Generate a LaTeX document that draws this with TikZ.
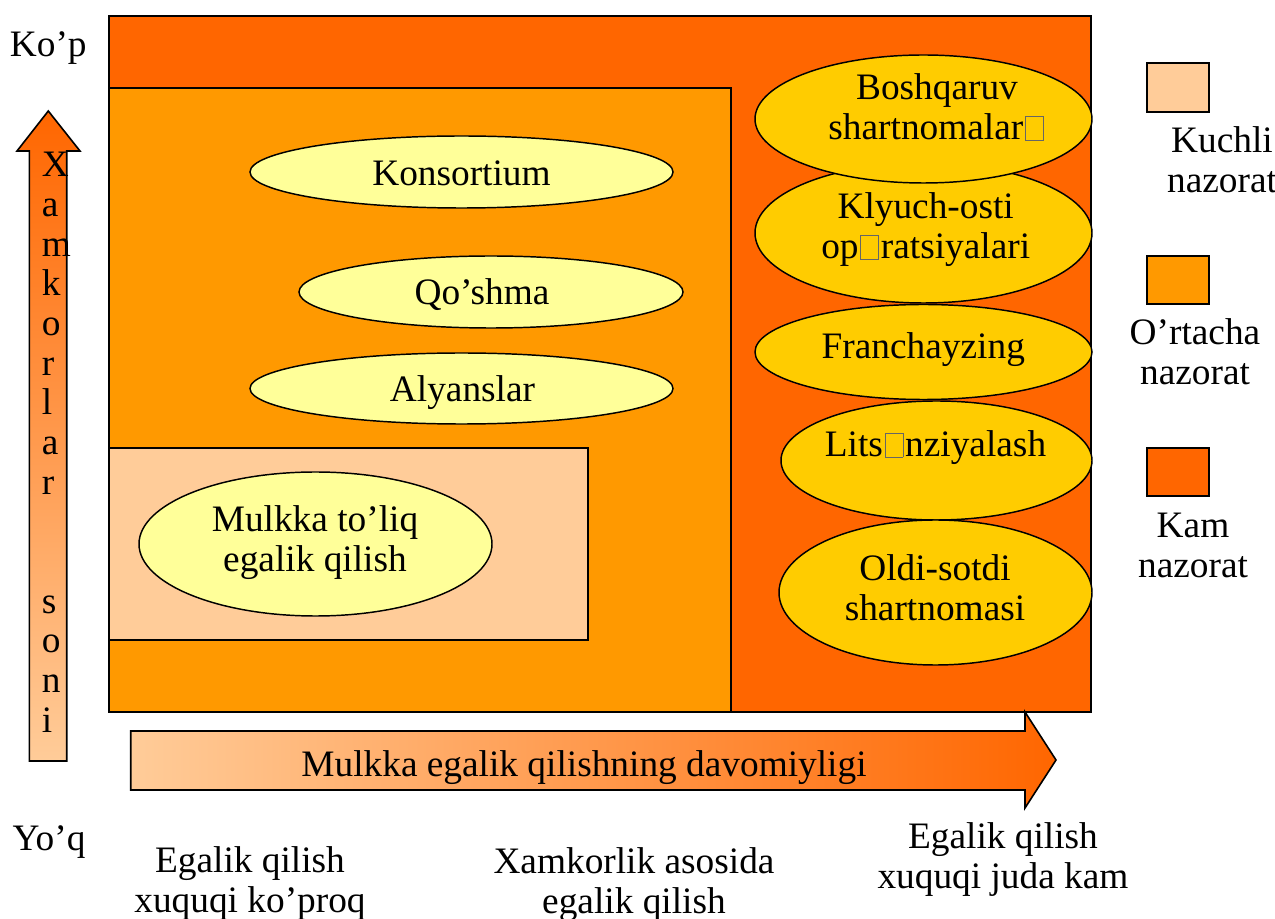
\documentclass[tikz,border=0pt]{standalone}
\usepackage{fontspec}
\setmainfont{Liberation Serif}
\usetikzlibrary{shapes.geometric}

\definecolor{lowctrl}{HTML}{FF6600}
\definecolor{midctrl}{HTML}{FF9900}
\definecolor{highctrl}{HTML}{FFCC99}
\definecolor{paleyellow}{HTML}{FFFF99}
\definecolor{goldfill}{HTML}{FFCC00}

% empty box standing in for a glyph the font does not have
\newcommand\tofu{\kern0.05em{\color{black!60}\fboxsep=0pt\fboxrule=0.5pt\fbox{\rule{0pt}{0.62em}\rule{0.46em}{0pt}}}\kern0.05em}

\begin{document}
\begin{tikzpicture}[x=0.75pt,y=-0.75pt,
  frame/.style={draw=black,line width=1.2pt},
  ovalbox/.style n args={2}{ellipse,draw=black,line width=1.1pt,inner sep=0pt,
    minimum width=#1*0.75pt,minimum height=#2*0.75pt},
  txt/.style={font=\fontsize{28}{30}\selectfont,align=center,inner sep=0pt},
  letter/.style={font=\fontsize{28}{30}\selectfont,inner sep=0pt,anchor=base west},
]
\useasboundingbox (0,0) rectangle (1275,919);

% control zones
\filldraw[frame,fill=lowctrl]  (109,16)  rectangle (1091,712);
\filldraw[frame,fill=midctrl]  (109,88)  rectangle (731,712);
\filldraw[frame,fill=highctrl] (109,448) rectangle (588,640);

% entry modes, left part
\node[ovalbox={423}{72},fill=paleyellow]  (konsortium) at (461.5,172) {};
\node[ovalbox={384}{72},fill=paleyellow]  (qoshma)     at (491,292)   {};
\node[ovalbox={423}{71},fill=paleyellow]  (alyans)     at (461.5,388.5) {};
\node[ovalbox={353}{144},fill=paleyellow] (mulkka)     at (315.5,544) {};

\node[txt] (konsortiumtxt) at (461.5,178) {\strut Konsortium};
\node[txt] (qoshmatxt)     at (482,297)   {\strut Qo’shma};
\node[txt] (alyanstxt)     at (462.5,393.7) {\strut Alyanslar};
\node[txt] (mulkkatxt)     at (315,543.7) {\strut Mulkka to’liq\\\strut egalik qilish};

% entry modes, contract column
\node[ovalbox={337}{140},fill=goldfill] (klyuch)    at (923.5,233)   {};
\node[ovalbox={337}{128},fill=goldfill] (boshqaruv) at (923.5,119)   {};
\node[ovalbox={337}{95},fill=goldfill]  (franch)    at (923.5,352)   {};
\node[ovalbox={311}{119},fill=goldfill] (lits)      at (936.5,460.5) {};
\node[ovalbox={313}{145},fill=goldfill] (oldi)      at (935.5,592.5) {};

\node[txt] (boshqaruvtxt) at (937,111.7)   {\strut Boshqaruv\\\strut shartnomalar\tofu};
\node[txt] (klyuchtxt)    at (925.7,231)   {\strut Klyuch-osti\\\strut op\tofu ratsiyalari};
\node[txt] (franchtxt)    at (923.3,350.3) {\strut Franchayzing};
\node[txt] (litstxt)      at (935.5,448.7) {\strut Lits\tofu nziyalash};
\node[txt] (olditxt)      at (935,593)     {\strut Oldi-sotdi\\\strut shartnomasi};

% vertical axis arrow
\shade[frame,bottom color=highctrl,top color=lowctrl]
  (29.3,761) -- (29.3,151) -- (17,151) -- (48.3,111) -- (80,151)
  -- (66.7,151) -- (66.7,761) -- cycle;
\foreach \ch [count=\i from 0] in {X,a,m,k,o,r,l,a,r}
  \node[letter] (va\i) at (41.5,{177+39.65*\i}) {\ch};
\foreach \ch [count=\i from 11] in {s,o,n,i}
  \node[letter] (vb\i) at (41.5,{177+39.65*\i}) {\ch};

% horizontal axis arrow
\shade[frame,left color=highctrl,right color=lowctrl]
  (130.7,731) -- (1025,731) -- (1025,712) -- (1056,760) -- (1025,808)
  -- (1025,790) -- (130.7,790) -- cycle;
\node[txt] (durtxt) at (584,768) {\strut Mulkka egalik qilishning davomiyligi};

% axis end labels
\node[txt] (kop) at (48.3,48.7) {\strut Ko’p};
\node[txt] (yoq) at (49,842)    {\strut Yo’q};
\node[txt] (ownmore) at (250,884.5) {\strut Egalik qilish\\\strut xuquqi ko’proq};
\node[txt] (ownshared) at (634,885) {\strut Xamkorlik asosida\\\strut egalik qilish};
\node[txt] (ownless) at (1003,860) {\strut Egalik qilish\\\strut xuquqi juda kam};

% legend
\filldraw[frame,fill=highctrl] (1147,63)  rectangle (1209,112);
\filldraw[frame,fill=midctrl]  (1147,256) rectangle (1209,304);
\filldraw[frame,fill=lowctrl]  (1147,448) rectangle (1209,496);
\node[txt] (strong) at (1222,164.5) {\strut Kuchli\\\strut nazorat};
\node[txt] (medium) at (1195,356.5) {\strut O’rtacha\\\strut nazorat};
\node[txt] (weak)   at (1193,549.5) {\strut Kam\\\strut nazorat};
\end{tikzpicture}
\end{document}
